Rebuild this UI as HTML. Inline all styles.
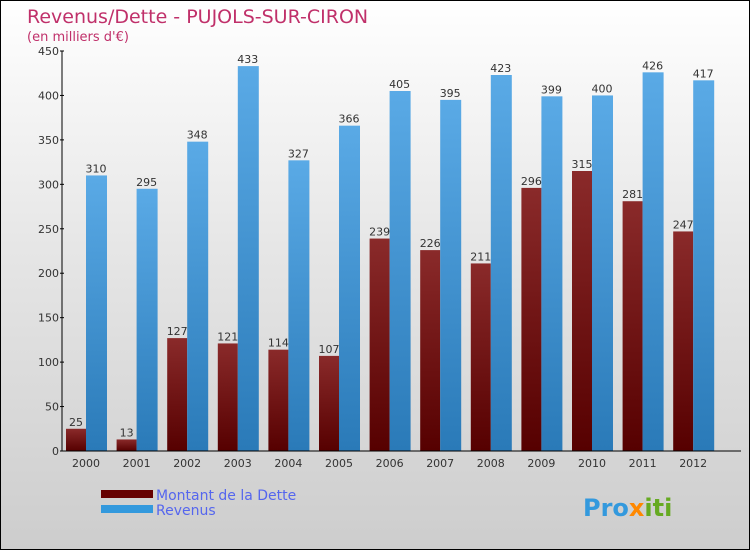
<!DOCTYPE html>
<html><head><meta charset="utf-8"><style>
body{margin:0}
#wrap{width:748px;height:548px;border:1px solid #000;background:linear-gradient(#fff,#e6e6e6 45%,#cdcdcd);position:relative;font-family:"DejaVu Sans","Liberation Sans",sans-serif}
</style></head><body>
<div id="wrap">
<svg id="svg" width="748" height="548" style="position:absolute;left:0;top:0">
<defs>
<linearGradient id="gd" x1="0" y1="0" x2="0" y2="1"><stop offset="0" stop-color="#8a2a2a"/><stop offset="1" stop-color="#560000"/></linearGradient>
<linearGradient id="gr" x1="0" y1="0" x2="0" y2="1"><stop offset="0" stop-color="#5aaae6"/><stop offset="1" stop-color="#2a7ab8"/></linearGradient>
</defs>
<text x="26" y="22" font-size="19" fill="#c0306a">Revenus/Dette - PUJOLS-SUR-CIRON</text>
<text x="26" y="40" font-size="13" fill="#c0306a">(en milliers d'€)</text>
<g id="bars"></g>
<g id="axes"></g>
<rect x="100" y="489" width="52" height="8" fill="#660000"/>
<rect x="100" y="504" width="52" height="8" fill="#3399dd"/>
<text x="155" y="499" font-size="14" fill="#5566ee">Montant de la Dette</text>
<text x="155" y="514" font-size="14" fill="#5566ee">Revenus</text>
<text x="582" y="515" font-size="24" font-weight="bold"><tspan fill="#3399dd">Pro</tspan><tspan fill="#ff8800">x</tspan><tspan fill="#66aa22">iti</tspan></text>
</svg>
</div>
<script>
const years=["2000","2001","2002","2003","2004","2005","2006","2007","2008","2009","2010","2011","2012"];
const dette=[25,13,127,121,114,107,239,226,211,296,315,281,247];
const revenus=[310,295,348,433,327,366,405,395,423,399,400,426,417];
const ticks=[0,50,100,150,200,250,300,350,400,450];
const NS="http://www.w3.org/2000/svg";
const x0=61,y0=450,yTop=50,maxV=450,step=50.6;
const y=v=>y0-(v/maxV)*(y0-yTop);
const gx=i=>x0+4+i*step;
const bars=document.getElementById('bars'),axes=document.getElementById('axes');
function mk(t,a,p){const e=document.createElementNS(NS,t);for(const k in a)e.setAttribute(k,a[k]);p.appendChild(e);return e;}
years.forEach((yr,i)=>{
 const bx=gx(i);
 const r1=mk('rect',{x:bx,y:y(dette[i]),width:20,height:y0-y(dette[i]),fill:'url(#gd)'},bars);
 
 
 const r2=mk('rect',{x:bx+20,y:y(revenus[i]),width:21,height:y0-y(revenus[i]),fill:'url(#gr)'},bars);
 
 
 const t1=mk('text',{x:bx+10,y:y(dette[i])-3,'font-size':11,fill:'#333','text-anchor':'middle'},bars);t1.textContent=dette[i];
 
 
 const t2=mk('text',{x:bx+30,y:y(revenus[i])-3,'font-size':11,fill:'#333','text-anchor':'middle'},bars);t2.textContent=revenus[i];
 
 
 const t3=mk('text',{x:bx+20,y:y0+16,'font-size':11,fill:'#333','text-anchor':'middle'},axes);t3.textContent=yr;
 
 
});
const ya=mk('line',{x1:x0,y1:yTop,x2:x0,y2:y0,stroke:'#000'},axes);


const xa=mk('line',{x1:x0,y1:y0,x2:740,y2:y0,stroke:'#000'},axes);


ticks.forEach(v=>{
 mk('line',{x1:x0-2,y1:y(v),x2:x0+2,y2:y(v),stroke:'#000'},axes);
 const t=mk('text',{x:x0-3,y:y(v)+4,'font-size':11,fill:'#333','text-anchor':'end'},axes);t.textContent=v;
 
 
});
</script>
</body></html>
